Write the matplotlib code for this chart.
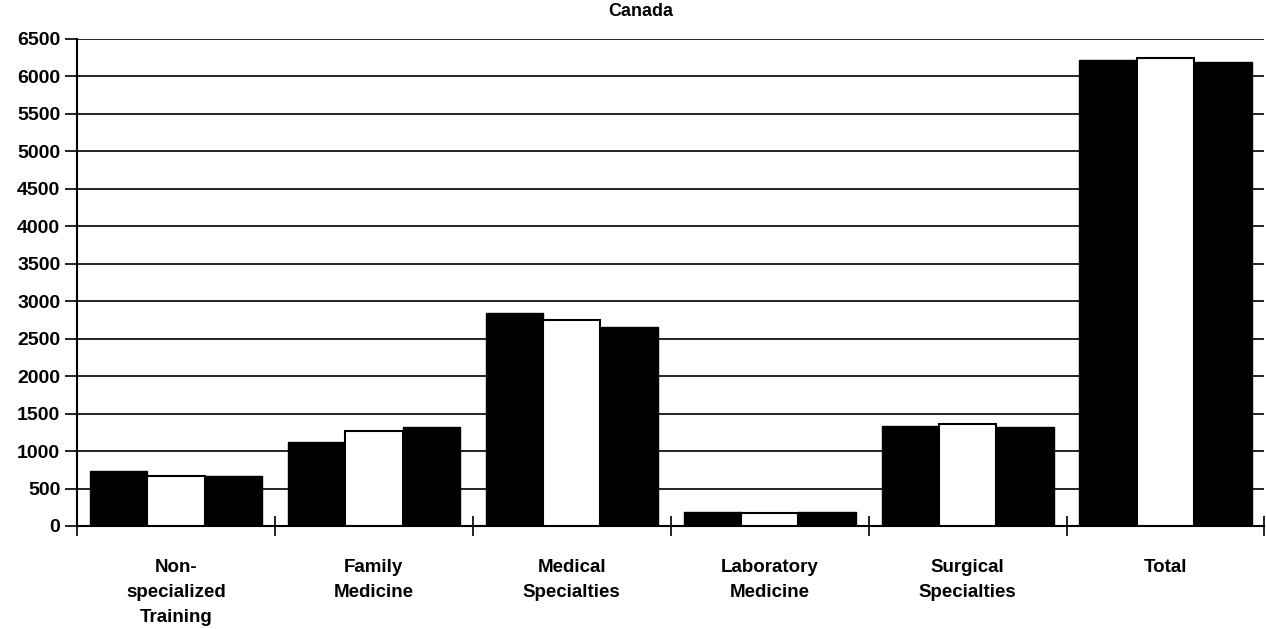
import numpy as np
import matplotlib.pyplot as plt

plt.rcParams['font.family'] = ['Liberation Sans', 'DejaVu Sans']

categories = ['Non-\nspecialized\nTraining', 'Family\nMedicine', 'Medical\nSpecialties',
              'Laboratory\nMedicine', 'Surgical\nSpecialties', 'Total']
series1 = [738, 1117, 2848, 191, 1335, 6221]
series2 = [667, 1268, 2750, 170, 1362, 6252]
series3 = [672, 1326, 2653, 191, 1326, 6191]
y_ticks = list(range(0, 6501, 500))

fig = plt.figure(figsize=(12.66, 6.29), dpi=100)
ax = fig.add_axes([0.0608, 0.1638, 0.938, 0.7742])

x = np.arange(len(categories))
w = 0.29
ax.bar(x - w, series1, w, color='black', edgecolor='black', linewidth=1, zorder=3)
ax.bar(x, series2, w, color='white', edgecolor='black', linewidth=1.5, zorder=3)
ax.bar(x + w, series3, w, color='black', edgecolor='black', linewidth=1, zorder=3)

ax.set_xlim(-0.5, len(categories) - 0.5)
ax.set_ylim(0, 6500)
ax.set_yticks(y_ticks)
ax.yaxis.grid(True, color='black', linewidth=1.2, zorder=0)
ax.set_axisbelow(True)

ax.set_xticks(x)
ax.set_xticklabels(categories, fontsize=13.5, fontweight='bold', va='top', linespacing=1.62)
ax.tick_params(axis='x', which='major', length=0, pad=24)
ax.set_xticks(np.arange(len(categories) + 1) - 0.5, minor=True)
ax.tick_params(axis='x', which='minor', direction='inout', length=14, width=1.2)
ax.tick_params(axis='y', direction='out', length=9, width=1.2, labelsize=14, pad=3)
for lab in ax.get_yticklabels():
    lab.set_fontweight('bold')

ax.spines['top'].set_visible(False)
ax.spines['right'].set_visible(False)
ax.spines['left'].set_linewidth(1.5)
ax.spines['bottom'].set_linewidth(1.5)

fig.text(641 / 1266, 1 - 12 / 629, 'Canada', ha='center', va='center', fontsize=13, fontweight='bold')

fig.savefig('out.png', dpi=100)
